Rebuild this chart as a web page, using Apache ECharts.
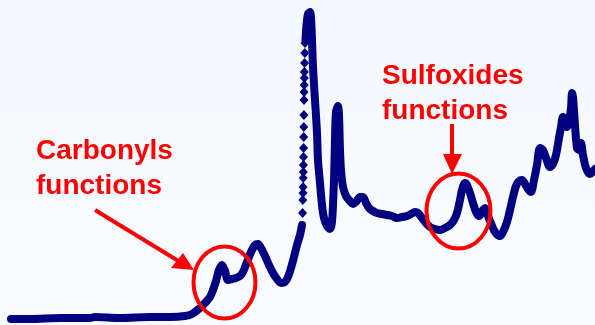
<!DOCTYPE html>
<html>
<head>
<meta charset="utf-8">
<script src="https://cdn.jsdelivr.net/npm/echarts@6/dist/echarts.min.js"></script>
<style>
html,body{margin:0;padding:0;background:#f7fbff;}
#chart{width:595px;height:325px;}
</style>
</head>
<body>
<div id="chart"></div>
<script>
// Spectrum, part 1 (baseline up to the foot of the strong band)
var curveX1 = [11,30,60,90,95,120,150,170,185,192,200,205,210,213,216,219,222,225,228,232,236,240,243,247,251,255,258,261,265,269,273,277,281,285,288,291,294,297,300,302];
var curveY1 = [6,6,7,7,8,7,8,8,9,11,17,22,28,35,44,55,60,54,45,46,47,49,53,63,73,80,81,77,69,60,52,46,42,43,48,57,68,80,90,100];
// Steep rising edge: sparse points (drawn as separate diamonds)
var edgeX = [302.6,302.8,303,303.1,303.2,303.3,303.4,303.5,303.6,303.7,303.8,303.9,304,304.1,304.2,304.3,304.4,304.6,304.8,305];
var edgeY = [112,125,132,138,147,153,160,168,177,188,198,210,225,233,240,247,253,262,272,282];
// Spectrum, part 2 (top of strong band to the end)
var curveX2 = [305.5,306.5,308,310,311,312,313,315,317,318,320,322,324,327,330,332,334,335,336,338,339,340,341,343,346,349,353,356,360,363,366,369,373,377,382,387,392,397,402,407,411,415,418,422,426,430,435,440,445,450,454,457,460,462,465,467,470,473,476,479,483,485,487,490,495,500,503,507,510,513,516,519,522,525,528,531,534,537,540,543,546,550,553,556,559,561,563,565,567,569,571,572,573,575,577,579,581,583,586,590,595];
var curveY2 = [285,300,311,313,307,285,258,225,192,165,142,120,107,99,96,103,145,185,213,219,210,175,155,138,129,125,121,123,128,128,122,117,114,112,111,110,109,107,108,109,111,113,112,107,102,98,96,95,97,100,105,112,125,135,142,140,132,122,113,109,115,117,112,104,93,89,93,103,115,128,139,144,145,141,136,133,145,160,177,175,167,158,161,170,187,198,208,205,198,203,217,232,228,200,177,175,182,170,157,151,156];

var dom = document.getElementById('chart');
var chart = echarts.init(dom, null, {renderer:'canvas'});
function pairs(xs, ys){ return xs.map(function(x,i){ return [x, ys[i]]; }); }
var navy = '#000080';
var red = '#ff0000';
var font = 'bold 28px "Liberation Sans", Arial, sans-serif';

chart.setOption({
  backgroundColor: {
    type:'linear', x:0, y:0, x2:0, y2:1,
    colorStops:[{offset:0,color:'#f4f9ff'},{offset:1,color:'#fafcff'}]
  },
  animation:false,
  grid:{left:0,right:0,top:0,bottom:0},
  xAxis:{type:'value',min:0,max:595,show:false},
  yAxis:{type:'value',min:0,max:325,show:false},
  series:[
    {type:'line',data:pairs(curveX1,curveY1),showSymbol:false,smooth:0.3,
     lineStyle:{color:navy,width:8,cap:'round',join:'round'},z:2},
    {type:'scatter',data:pairs(edgeX,edgeY),symbol:'diamond',symbolSize:[9,10],
     itemStyle:{color:navy,opacity:1},z:2},
    {type:'line',data:pairs(curveX2,curveY2),showSymbol:false,smooth:0.3,
     lineStyle:{color:navy,width:8,cap:'round',join:'round'},z:2}
  ],
  graphic:[
    {type:'text',z:10,style:{text:'Carbonyls',x:36,y:151,font:font,fill:red,textVerticalAlign:'middle'}},
    {type:'text',z:10,style:{text:'functions',x:36,y:186,font:font,fill:red,textVerticalAlign:'middle'}},
    {type:'text',z:10,style:{text:'Sulfoxides',x:382,y:76,font:font,fill:red,textVerticalAlign:'middle'}},
    {type:'text',z:10,style:{text:'functions',x:382,y:111,font:font,fill:red,textVerticalAlign:'middle'}},
    {type:'line',z:10,shape:{x1:95,y1:210,x2:180,y2:262},style:{stroke:red,lineWidth:4}},
    {type:'polygon',z:10,shape:{points:[[194,270],[171,268],[183,253]]},style:{fill:red}},
    {type:'line',z:10,shape:{x1:452,y1:124,x2:452,y2:158},style:{stroke:red,lineWidth:4}},
    {type:'polygon',z:10,shape:{points:[[443,154],[462,154],[452,174]]},style:{fill:red}},
    {type:'ellipse',z:10,shape:{cx:224.5,cy:282.5,rx:31,ry:36},style:{fill:'none',stroke:red,lineWidth:4}},
    {type:'ellipse',z:10,shape:{cx:458.5,cy:211,rx:32,ry:37.5},style:{fill:'none',stroke:red,lineWidth:4}}
  ]
});
</script>
</body>
</html>
